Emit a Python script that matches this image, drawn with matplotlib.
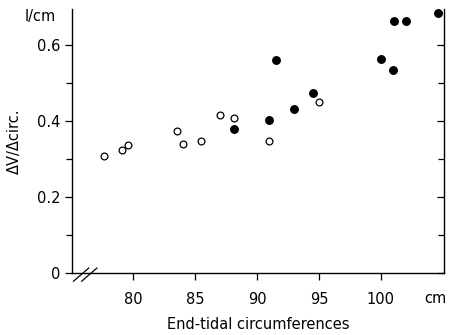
import matplotlib
matplotlib.use("Agg")
import matplotlib.pyplot as plt
from matplotlib.ticker import MultipleLocator

# open circles
open_x = [77.6, 79.1, 79.6, 83.5, 84.0, 85.5, 87.0, 88.1, 91.0, 95.0]
open_y = [0.309, 0.324, 0.338, 0.375, 0.339, 0.349, 0.417, 0.409, 0.349, 0.451]
# filled circles
fill_x = [88.1, 91.0, 91.5, 93.0, 94.5, 100.0, 101.0, 101.1, 102.0, 104.6]
fill_y = [0.380, 0.402, 0.561, 0.432, 0.473, 0.563, 0.534, 0.663, 0.663, 0.684]

xticks = [80, 85, 90, 95, 100]
yticks = [0, 0.2, 0.4, 0.6]
ytick_labels = ["0", "0.2", "0.4", "0.6"]

plt.rcParams["font.family"] = "DejaVu Sans"
fig = plt.figure(figsize=(4.49, 3.35), dpi=100)
ax = fig.add_axes([0.1604, 0.1842, 0.8285, 0.7888])

ax.plot(open_x, open_y, "o", mfc="white", mec="black", mew=0.9, ms=4.9, ls="none")
ax.plot(fill_x, fill_y, "o", color="black", ms=5.4, ls="none")

ax.set_xlim(75.05, 105.1)
ax.set_ylim(0, 0.695)
ax.set_xticks(xticks)
ax.set_yticks(yticks)
ax.set_yticklabels(ytick_labels)
ax.yaxis.set_minor_locator(MultipleLocator(0.1))

for s in ax.spines.values():
    s.set_linewidth(1.0)
ax.spines["top"].set_visible(False)

ax.tick_params(axis="both", which="both", direction="out", labelsize=10.5,
               length=5, width=0.9, color="black")
ax.tick_params(axis="x", pad=8.5)
ax.tick_params(axis="y", which="both", right=True, left=True)
ax.tick_params(axis="y", which="minor", length=4)
# right-hand ticks point inward
for t in ax.yaxis.get_major_ticks() + ax.yaxis.get_minor_ticks():
    t.tick2line.set_marker(matplotlib.markers.TICKLEFT)

# axis break marks
for dx in (0.0, 0.022):
    ax.plot([0.004 + dx, 0.045 + dx], [-0.03, 0.02], color="black", lw=0.9,
            transform=ax.transAxes, clip_on=False)

ax.set_ylabel("\u0394V/\u0394circ.", fontsize=10.5, labelpad=11)
ax.set_xlabel("End-tidal circumferences", fontsize=10.5, labelpad=7)
fig.text(0.055, 0.95, "l/cm", fontsize=10.5, ha="left", va="center")
fig.text(0.945, 0.11, "cm", fontsize=10.5, ha="left", va="center")

fig.savefig("out.png", dpi=100)
